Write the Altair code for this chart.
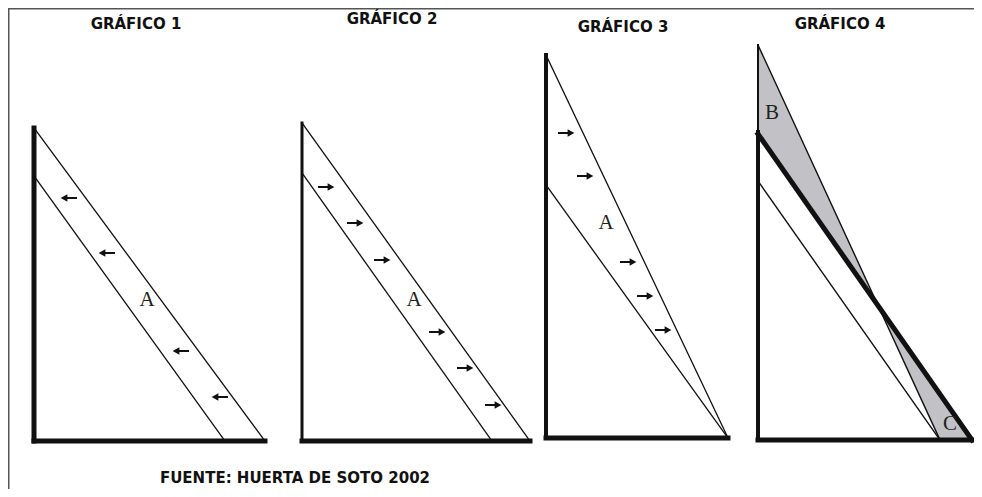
import altair as alt
import pandas as pd

# ---- diagram geometry (image pixel coordinates) ----
# line segments: start x, start y, end x, end y, stroke width
seg_x1 = [8.75, 8.75,
          34, 34, 34, 34,
          302, 302, 302, 302,
          546, 546, 546, 546,
          758, 758, 758, 758, 758, 758]
seg_y1 = [8.75, 8.75,
          128, 441, 128, 176,
          123, 441, 123, 173,
          55, 438, 55, 185,
          45, 132, 440, 134, 45, 181]
seg_x2 = [974, 8.75,
          34, 265, 265, 225,
          302, 530, 530, 492,
          546, 728, 728, 728,
          758, 758, 972, 972, 940, 940]
seg_y2 = [8.75, 497,
          441, 441, 441, 441,
          441, 441, 441, 441,
          438, 438, 438, 438,
          134, 440, 440, 440, 440, 440]
seg_w = [1.5, 1.5,
         5, 5, 1.3, 1.3,
         3, 5, 1.3, 1.3,
         4, 5, 1.3, 1.3,
         2, 4, 5, 5, 1.4, 1.4]
seg_col = ["#555555", "#555555"] + ["#111111"] * 18

# grey shaded areas B and C in graph 4 (x, upper y, lower y)
areaB_x = [758, 877]
areaB_y = [45, 303]
areaB_y2 = [134, 303]
areaC_x = [877, 940, 973]
areaC_y = [303, 393, 440]
areaC_y2 = [303, 440, 440]

# arrows: centre x, centre y, direction (-1 left, +1 right)
arrow_x = [69, 107, 181, 220,
           326, 355, 382, 437, 465, 493,
           566, 585, 628, 645, 663]
arrow_y = [198, 253, 351, 397,
           187, 223, 260, 332, 368, 405,
           133, 176, 262, 296, 330]
arrow_dir = [-1, -1, -1, -1,
             1, 1, 1, 1, 1, 1,
             1, 1, 1, 1, 1]

# region letters
letter_txt = ["A", "A", "A", "B", "C"]
letter_x = [147, 414, 606, 772, 950]
letter_y = [300, 300, 223, 113, 424]

# titles
title_txt = ["GRÁFICO 1", "GRÁFICO 2", "GRÁFICO 3", "GRÁFICO 4", "FUENTE: HUERTA DE SOTO 2002"]
title_x = [136, 392, 623, 840, 295]
title_y = [24, 19, 27, 24, 478]

# ---- build tables ----
W, H = 966, 481
xs = alt.Scale(domain=[8, 8 + W], nice=False, zero=False)
ys = alt.Scale(domain=[8, 8 + H], nice=False, zero=False, reverse=True)

segs = pd.DataFrame({"x": seg_x1, "y": seg_y1, "x2": seg_x2, "y2": seg_y2,
                     "w": seg_w, "c": seg_col})
areaB = pd.DataFrame({"x": areaB_x, "y": areaB_y, "y2": areaB_y2})
areaC = pd.DataFrame({"x": areaC_x, "y": areaC_y, "y2": areaC_y2})

shafts = pd.DataFrame({"x": [cx - 8 if d > 0 else cx - 4 for cx, d in zip(arrow_x, arrow_dir)],
                       "x2": [cx + 4 if d > 0 else cx + 8 for cx, d in zip(arrow_x, arrow_dir)],
                       "y": arrow_y})
heads = pd.DataFrame({"x": [cx + 5 * d for cx, d in zip(arrow_x, arrow_dir)],
                      "y": arrow_y,
                      "shape": ["triangle-right" if d > 0 else "triangle-left" for d in arrow_dir]})
letters = pd.DataFrame({"t": letter_txt, "x": letter_x, "y": letter_y})
titles = pd.DataFrame({"t": title_txt, "x": title_x, "y": title_y})

X = lambda f: alt.X(f, type="quantitative", scale=xs, axis=None)
Y = lambda f: alt.Y(f, type="quantitative", scale=ys, axis=None, stack=None)


def shade(df):
    return alt.Chart(df).mark_area(color="#c2c2c6", opacity=1, interpolate="linear").encode(
        x=X("x"), y=Y("y"), y2="y2")


line_layer = alt.Chart(segs).mark_rule(strokeCap="square").encode(
    x=X("x"), y=Y("y"), x2="x2", y2="y2",
    size=alt.Size("w:Q", scale=None, legend=None),
    color=alt.Color("c:N", scale=None, legend=None))

shaft_layer = alt.Chart(shafts).mark_rule(color="#111111", strokeWidth=2).encode(
    x=X("x"), x2="x2", y=Y("y"))

head_layer = alt.Chart(heads).mark_point(filled=True, color="#111111", opacity=1, size=60).encode(
    x=X("x"), y=Y("y"), shape=alt.Shape("shape:N", scale=None, legend=None))

letter_layer = alt.Chart(letters).mark_text(font="Liberation Serif", fontSize=21,
                                            color="#222222", baseline="middle", align="center").encode(
    x=X("x"), y=Y("y"), text="t:N")

title_layer = alt.Chart(titles).mark_text(font="DejaVu Sans", fontSize=15, fontWeight="bold",
                                          color="#111111", baseline="middle", align="center").encode(
    x=X("x"), y=Y("y"), text="t:N")

chart = alt.layer(shade(areaB), shade(areaC), line_layer, shaft_layer, head_layer,
                  letter_layer, title_layer).properties(
    width=W, height=H, padding=0, autosize=alt.AutoSizeParams(type="none"), background="white"
).configure_view(strokeWidth=0)

chart.save("out.html", embed_options={"renderer": "svg", "actions": False})
